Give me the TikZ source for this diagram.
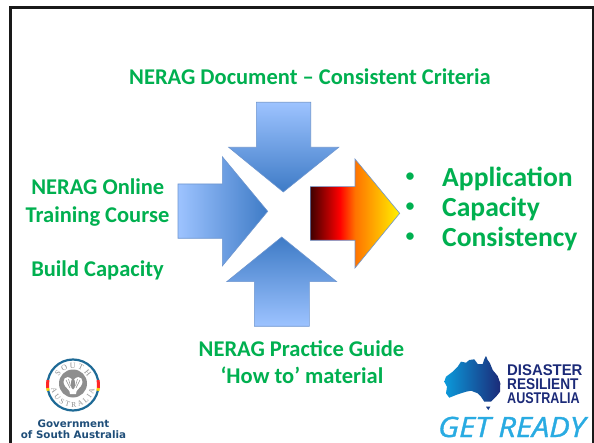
\documentclass[tikz,border=0pt]{standalone}
\usepackage{fontspec}
\usepackage{graphicx}
\setmainfont{Carlito}
\newfontfamily\sealfont{Liberation Serif}
\newfontfamily\govfont{DejaVu Sans}
\newfontfamily\drafont{Liberation Sans}
\newfontfamily\readyfont[ItalicFeatures={FakeBold=1.2}]{Open Sans}
\usetikzlibrary{decorations.text}
\definecolor{nerag}{HTML}{00B050}
\definecolor{bluelight}{HTML}{9DC3FF}
\definecolor{bluedark}{HTML}{3E7BC6}
\definecolor{blueedge}{HTML}{6E96CF}
\definecolor{sealblue}{HTML}{1E6A96}
\definecolor{sealgrey}{HTML}{8E8E8E}
\definecolor{govblue}{HTML}{1F4E79}
\definecolor{dranavy}{HTML}{1B2A78}
\definecolor{dracyan}{HTML}{0B9ADB}
\definecolor{readycyan}{HTML}{29ABE2}
\pgfdeclarehorizontalshading{firegrad}{100bp}{color(0bp)=(black!75!red);color(25bp)=(black!75!red);color(41.5bp)=(red);color(50bp)=(orange!90!red);color(75bp)=(yellow!90!orange);color(100bp)=(yellow!90!orange)}
\tikzset{
    greentext/.style={font=\fontsize{22.5}{22.5}\selectfont\bfseries, text=nerag, inner sep=0pt},
    listtext/.style={font=\fontsize{27.6}{27.6}\selectfont\bfseries, text=nerag, inner sep=0pt, anchor=base west},
    dottext/.style={font=\fontsize{21}{21}\selectfont, text=nerag, inner sep=0pt, anchor=center},
    bluearrow/.style={draw=blueedge, line width=0.6pt},
    dratext/.style={font=\drafont\fontsize{15.5}{15.5}\selectfont\bfseries, text=dranavy, inner sep=0pt, anchor=base west},
    govtext/.style={font=\govfont\fontsize{10.3}{10.3}\selectfont\bfseries, text=govblue, inner sep=0pt, anchor=base}
}
\begin{document}
\begin{tikzpicture}[x=1pt, y=-1pt]
    \useasboundingbox (0,0) rectangle (594,443);
    \fill[white] (0,0) rectangle (594,443);
    \draw[black!90, line width=2.6pt] (10.6,443) -- (10.6,7.5) -- (593.5,7.5) -- (593.5,443);

    \node[greentext, anchor=base] (title) at (310,85) {NERAG Document – Consistent Criteria};
    \node[greentext, anchor=base] (online) at (97.8,195) {NERAG Online};
    \node[greentext, anchor=base] (course) at (97.5,222.5) {Training Course};
    \node[greentext, anchor=base] (build) at (97.5,277) {Build Capacity};
    \node[greentext, anchor=base] (guide) at (301.5,356) {NERAG Practice Guide};
    \node[greentext, anchor=base] (howto) at (302,383) {‘How to’ material};

    \shadedraw[bluearrow, top color=bluelight, bottom color=bluedark]
        (256.3,102.3) -- (310.7,102.3) -- (310.7,147.3) -- (338.7,147.3) -- (283.3,192) -- (228.7,147.3) -- (256.3,147.3) -- cycle;
    \shadedraw[bluearrow, left color=bluelight, right color=bluedark]
        (178,184) -- (222.3,184) -- (222.3,156.7) -- (267.7,211.3) -- (222.3,266) -- (222.3,238.3) -- (178,238.3) -- cycle;
    \shadedraw[bluearrow, bottom color=bluelight, top color=bluedark]
        (254.3,326.3) -- (309.3,326.3) -- (309.3,281.7) -- (336.7,281.7) -- (281.7,237) -- (226.7,281.7) -- (254.3,281.7) -- cycle;
    \shadedraw[bluearrow, shading=firegrad, shading angle=0]
        (310.3,186.7) -- (355,186.7) -- (355,159) -- (399.7,213.3) -- (355,268) -- (355,240.3) -- (310.3,240.3) -- cycle;

    \foreach \y/\word/\name in {187/Application/appl, 217/Capacity/capa, 247/Consistency/cons} {
        \node[dottext] (dot\name) at (410,\y-9) {•};
        \node[listtext] (\name) at (442,\y) {\word};
    }

    \begin{scope}[shift={(73,385)}, x=1pt, y=1pt]
        \draw[sealblue, line width=2.2pt] (0,0) circle (25.5);
        \draw[red!80!pink, line width=3pt] (169:25.5) arc (169:187:25.5);
        \draw[yellow!70!orange, line width=3pt] (187:25.5) arc (187:193:25.5);
        \draw[red!80!pink, line width=3pt] (11:25.5) arc (11:-7:25.5);
        \draw[yellow!70!orange, line width=3pt] (-7:25.5) arc (-7:-13:25.5);
        \fill[sealgrey] (0,1.5) circle (14);
        \fill[white] (-1.5,6) .. controls (-7,11) and (-12,5) .. (-8,-1) .. controls (-6,-4) and (-3,-5) .. (-3,-9) -- (3,-9) .. controls (3,-5) and (6,-4) .. (8,-1) .. controls (12,5) and (7,11) .. (1.5,6) .. controls (1,3) and (-1,3) .. cycle;
        \fill[sealgrey] (0,1) ellipse (2.2 and 5.5);
        \draw[sealgrey, line width=0.5pt] (-7,5) -- (-3,-3) (-4.5,6) -- (-2.5,-1) (7,5) -- (3,-3) (4.5,6) -- (2.5,-1);
        \path[decorate, decoration={text along path, text align=fit to path,
            text={|\sealfont\fontsize{8}{8}\selectfont\color{sealgrey}|SOUTH}}]
            (150:16.5) arc (150:30:16.5);
        \path[decorate, decoration={text along path, text align=fit to path,
            text={|\sealfont\fontsize{7.5}{7.5}\selectfont\color{sealgrey}|AUSTRALIA}}]
            (190:22) arc (190:350:22);
    \end{scope}
    \node[govtext] (gov) at (73.5,427) {Government};
    \node[govtext] (ofsa) at (73.5,438) {of South Australia};

    \shade[left color=dracyan, right color=dranavy]
        (444.3,381.7) -- (446,376.7) -- (452.7,371.7) -- (457.7,366.7) -- (461,361.7) -- (466,362.7) -- (469.3,360) -- (474.3,359.3) -- (477.7,364) -- (482.7,364) -- (484.3,359.3) -- (486,356) -- (487.7,360) -- (490,363.3) -- (492.7,370) -- (497.7,376) -- (500.3,383.3) -- (500,391.7) -- (496,396.7) -- (491,401.7) -- (484.3,401.7) -- (481,396.7) -- (477.7,393.3) -- (471,390.7) -- (466,391.7) -- (461,393.3) -- (456,395) -- (449.3,397.7) -- (446,393.3) -- (447,386.7) -- cycle;
    \fill[dranavy!85!dracyan] (486,406.7) -- (490.3,406.7) -- (488.3,410) -- cycle;

    \node[dratext] (disaster) at (507,375) {\scalebox{0.96}[1]{DISASTER}};
    \node[dratext] (resilient) at (507,389.3) {\scalebox{0.88}[1]{RESILIENT}};
    \node[dratext] (australia) at (507,403.3) {\scalebox{0.81}[1]{AUSTRALIA}};
    \node[font=\readyfont\fontsize{28}{28}\selectfont\itshape, text=readycyan, inner sep=0pt, anchor=base west] (ready) at (438,437) {\scalebox{1.1}[1]{GET READY}};
\end{tikzpicture}
\end{document}
